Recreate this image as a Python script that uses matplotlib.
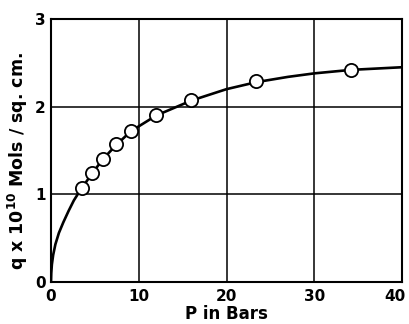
import numpy as np
import matplotlib.pyplot as plt
import matplotlib.transforms as mtransforms

# measured points (open circles)
p_pts = [3.5, 4.7, 5.9, 7.4, 9.1, 12.0, 16.0, 23.4, 34.2]
q_pts = [1.07, 1.24, 1.40, 1.57, 1.72, 1.90, 2.08, 2.29, 2.42]

# smooth curve
p_curve = [0, 0.03, 0.1, 0.25, 0.5, 0.9, 1.4, 2.0, 2.6, 3.1, 3.5, 4.7, 5.9, 7.4,
           9.1, 12.0, 16.0, 20.0, 23.4, 27.0, 30.0, 34.2, 40.0]
q_curve = [0, 0.10, 0.20, 0.31, 0.43, 0.56, 0.68, 0.81, 0.93, 1.01, 1.07, 1.24,
           1.40, 1.56, 1.72, 1.90, 2.07, 2.20, 2.28, 2.34, 2.38, 2.42, 2.45]

xticks = [0, 10, 20, 30, 40]
yticks = [0, 1, 2, 3]

plt.rcParams['font.family'] = 'DejaVu Sans'
plt.rcParams['font.weight'] = 'bold'

fig = plt.figure(figsize=(4.09, 3.24), dpi=100)
ax = fig.add_axes([0.1247, 0.1296, 0.8583, 0.8117])

ax.plot(p_curve, q_curve, color='black', lw=1.9, zorder=3)
ax.plot(p_pts, q_pts, 'o', ms=9.5, mfc='white', mec='black', mew=1.3, zorder=4)

ax.set_xlim(0, 40)
ax.set_ylim(0, 3)
ax.set_xticks(xticks)
ax.set_yticks(yticks)
ax.grid(True, color='black', lw=1.1)
ax.set_axisbelow(True)
ax.tick_params(length=0, labelsize=11)
ax.tick_params(axis='x', pad=5)
ax.tick_params(axis='y', pad=4)
for s in ax.spines.values():
    s.set_linewidth(1.5)

# last x label sits a little inside, as in the original
lab = ax.get_xticklabels()[-1]
lab.set_transform(lab.get_transform() +
                  mtransforms.ScaledTranslation(-5 / 72, 0, fig.dpi_scale_trans))

ax.set_xlabel('P in Bars', fontsize=12, fontweight='bold', labelpad=1)
ax.set_ylabel(r'q x 10$^{\mathbf{10}}$ Mols / sq. cm.', fontsize=12.5,
              fontweight='bold')
ax.yaxis.set_label_coords(-0.06, 0.46)

fig.savefig('out.png', dpi=100)
